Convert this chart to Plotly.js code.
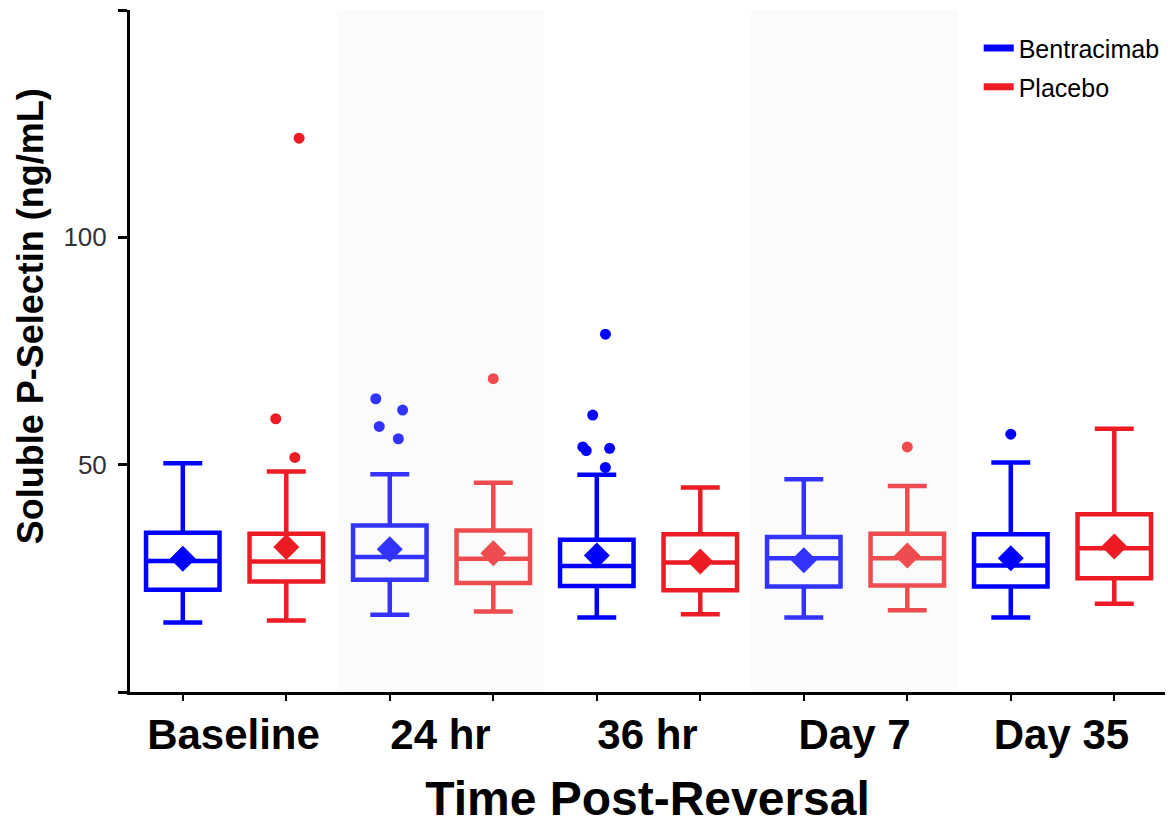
<!DOCTYPE html>
<html>
<head>
<meta charset="utf-8">
<script src="https://cdn.plot.ly/plotly-3.0.1.min.js"></script>
<style>html,body{margin:0;padding:0;background:#fff}#chart{width:1168px;height:825px}</style>
</head>
<body>
<div id="chart"></div>
<script>
// ---- data ----
const categories = ['Baseline', '24 hr', '36 hr', 'Day 7', 'Day 35'];

const bentQ1     = [22.5, 24.7, 23.3, 23.2, 23.2];
const bentMedian = [28.8, 29.7, 27.7, 29.4, 27.8];
const bentQ3     = [35.0, 36.6, 33.5, 34.1, 34.7];
const bentLower  = [15.3, 17.0, 16.4, 16.4, 16.4];
const bentUpper  = [50.3, 47.9, 47.8, 46.8, 50.5];
const bentMean   = [29.3, 31.4, 30.0, 29.0, 29.4];
const bentOutliers = [[], [64.5, 62.0, 58.4, 55.7], [78.7, 60.9, 53.9, 53.6, 53.1, 49.4], [], [56.7]];

const placQ1     = [24.3, 24.0, 22.4, 23.4, 25.0];
const placMedian = [28.7, 29.3, 28.5, 29.4, 31.6];
const placQ3     = [34.8, 35.5, 34.7, 34.8, 39.1];
const placLower  = [15.7, 17.7, 17.1, 18.0, 19.4];
const placUpper  = [48.5, 46.0, 45.0, 45.3, 57.9];
const placMean   = [31.9, 30.5, 28.7, 30.0, 32.0];
const placOutliers = [[121.8, 60.1, 51.6], [68.9], [], [53.9], []];

const yTickVals = [0, 50, 100, 150];
const yTickText = ['', '50', '100', ''];

// ---- styling ----
const bentColors = ['#0000ff', '#3333ff', '#0000ff', '#3333ff', '#0000ff'];
const placColors = ['#ed1c24', '#ef4c50', '#ed1c24', '#ef4c50', '#ed1c24'];
const groupOffset = {bent: -0.245, plac: 0.255};
const FONT = 'Arial, "Liberation Sans", sans-serif';

const idx = categories.map((c, i) => i);
const bentX = idx.map(i => i + groupOffset.bent);
const placX = idx.map(i => i + groupOffset.plac);

function boxTraces(xs, q1, med, q3, lo, hi, outl, colors) {
  return xs.map((x, i) => {
    const t = {
      type: 'box',
      x: [x],
      q1: [q1[i]], median: [med[i]], q3: [q3[i]],
      lowerfence: [lo[i]], upperfence: [hi[i]],
      boxpoints: false,
      width: 0.355, whiskerwidth: 0.53,
      fillcolor: 'rgba(0,0,0,0)',
      line: {color: colors[i], width: 4.5},
      marker: {color: colors[i], size: 11, line: {width: 0}},
      showlegend: false, hoverinfo: 'skip'
    };
    if (outl[i].length) {
      t.y = [outl[i]];
      t.boxpoints = 'outliers';
      t.jitter = 0.45;
      t.pointpos = 0;
    }
    return t;
  });
}

const traces = [
  ...boxTraces(bentX, bentQ1, bentMedian, bentQ3, bentLower, bentUpper, bentOutliers, bentColors),
  ...boxTraces(placX, placQ1, placMedian, placQ3, placLower, placUpper, placOutliers, placColors),
  {type: 'scatter', mode: 'markers', x: bentX, y: bentMean,
   marker: {symbol: 'diamond', size: 20, color: bentColors, line: {width: 0}}, showlegend: false},
  {type: 'scatter', mode: 'markers', x: placX, y: placMean,
   marker: {symbol: 'diamond', size: 20, color: placColors, line: {width: 0}}, showlegend: false},
  {type: 'scatter', mode: 'lines', x: [null], y: [null], name: 'Bentracimab',
   line: {color: '#0000ff', width: 7}, legend: 'legend'},
  {type: 'scatter', mode: 'lines', x: [null], y: [null], name: 'Placebo',
   line: {color: '#ed1c24', width: 7}, legend: 'legend2'}
];

const legendCommon = {
  xanchor: 'left', yanchor: 'middle', x: 0.82,
  bgcolor: 'rgba(0,0,0,0)', borderwidth: 0,
  font: {family: FONT, size: 25, color: '#000'}
};

const layout = {
  width: 1168, height: 825,
  margin: {l: 130, r: 3, t: 10, b: 133},
  paper_bgcolor: '#fff', plot_bgcolor: '#fff',
  font: {family: FONT, color: '#000'},
  showlegend: true,
  legend: Object.assign({}, legendCommon, {y: 0.944}),
  legend2: Object.assign({}, legendCommon, {y: 0.887}),
  xaxis: {
    range: [-0.5, 4.5], showgrid: false, zeroline: false,
    showline: true, linecolor: '#000', linewidth: 3,
    tickmode: 'array', tickvals: idx, ticktext: categories,
    ticks: '', ticklabelstandoff: 4,
    tickfont: {family: FONT, size: 42, color: '#000', weight: 'bold'},
    minor: {tickmode: 'array', tickvals: [...bentX, ...placX], ticks: 'outside',
            ticklen: 6, tickwidth: 2, tickcolor: '#000', showgrid: false},
    title: {text: '<b>Time Post-Reversal</b>', standoff: 33,
            font: {family: FONT, size: 48, color: '#000'}}
  },
  yaxis: {
    range: [0, 150], showgrid: false, zeroline: false,
    showline: true, linecolor: '#000', linewidth: 3,
    tickmode: 'array', tickvals: yTickVals, ticktext: yTickText,
    ticks: 'outside', ticklen: 9, tickwidth: 3, tickcolor: '#000',
    ticklabelstandoff: 6,
    tickfont: {family: FONT, size: 26, color: '#333'}
  },
  annotations: [{
    text: '<b>Soluble P-Selectin (ng/mL)</b>', textangle: -90,
    xref: 'paper', yref: 'paper', x: -0.0966, y: 0.551,
    xanchor: 'center', yanchor: 'middle', showarrow: false,
    font: {family: FONT, size: 36, color: '#000'}
  }],
  shapes: [1, 3].map(i => ({
    type: 'rect', xref: 'x', yref: 'paper', x0: i - 0.5, x1: i + 0.5, y0: 0, y1: 1,
    fillcolor: '#fbfbfb', line: {width: 0}, layer: 'below'
  }))
};

Plotly.newPlot('chart', traces, layout, {displayModeBar: false, staticPlot: true});
</script>
</body>
</html>
